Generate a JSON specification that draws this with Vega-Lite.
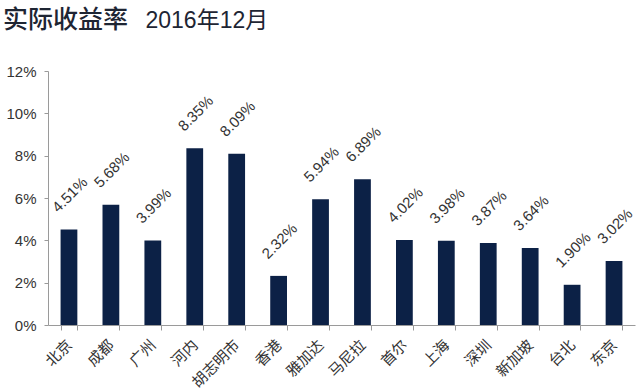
{
  "$schema": "https://vega.github.io/schema/vega-lite/v6.json",
  "width": 587,
  "height": 254,
  "autosize": "none",
  "padding": {"left": 48, "top": 71, "right": 5, "bottom": 67},
  "background": "white",
  "title": {
    "text": "实际收益率",
    "anchor": "start",
    "frame": "group",
    "orient": "top",
    "baseline": "bottom",
    "offset": 10,
    "dx": -45,
    "dy": 59,
    "font": "Noto Sans CJK SC",
    "fontSize": 25,
    "fontWeight": 500,
    "color": "#1e2533"
  },
  "config": {
    "view": {"stroke": null},
    "axis": {"labelFont": "Liberation Sans", "labelColor": "#333333", "domainColor": "#9a9a9a", "tickColor": "#9a9a9a", "grid": false}
  },
  "data": {
    "values": [
      {"city": "北京", "rate": 0.0451},
      {"city": "成都", "rate": 0.0568},
      {"city": "广州", "rate": 0.0399},
      {"city": "河内", "rate": 0.0835},
      {"city": "胡志明市", "rate": 0.0809},
      {"city": "香港", "rate": 0.0232},
      {"city": "雅加达", "rate": 0.0594},
      {"city": "马尼拉", "rate": 0.0689},
      {"city": "首尔", "rate": 0.0402},
      {"city": "上海", "rate": 0.0398},
      {"city": "深圳", "rate": 0.0387},
      {"city": "新加坡", "rate": 0.0364},
      {"city": "台北", "rate": 0.0190},
      {"city": "东京", "rate": 0.0302}
    ]
  },
  "encoding": {
    "x": {
      "field": "city",
      "type": "nominal",
      "sort": null,
      "scale": {"paddingInner": 0.6, "paddingOuter": 0.3},
      "axis": {
        "title": null,
        "labelAngle": -45,
        "labelAlign": "right",
        "labelBaseline": "middle",
        "labelFont": "Noto Sans CJK SC",
        "labelFontSize": 15,
        "labelPadding": 12,
        "tickBand": "extent",
        "tickSize": 5,
        "domainColor": "#9a9a9a"
      }
    },
    "y": {
      "field": "rate",
      "type": "quantitative",
      "scale": {"domain": [0, 0.12]},
      "axis": {
        "format": ".0%",
        "values": [0, 0.02, 0.04, 0.06, 0.08, 0.1, 0.12],
        "labelFontSize": 15,
        "labelPadding": 8,
        "tickSize": 4,
        "title": "2016年12月",
        "titleAngle": 0,
        "titleAlign": "left",
        "titleBaseline": "alphabetic",
        "titleX": 97,
        "titleY": -44,
        "titleFont": "Liberation Sans, Noto Sans CJK SC",
        "titleFontSize": 23,
        "titleFontWeight": "normal",
        "titleColor": "#1e2533"
      }
    }
  },
  "layer": [
    {"mark": {"type": "bar", "color": "#0c2146"}},
    {
      "mark": {"type": "text", "angle": -45, "align": "left", "baseline": "middle", "dx": 4, "dy": -24, "font": "Liberation Sans", "fontSize": 15, "color": "#333333"},
      "encoding": {"text": {"field": "rate", "type": "quantitative", "format": ".2%"}}
    }
  ]
}
